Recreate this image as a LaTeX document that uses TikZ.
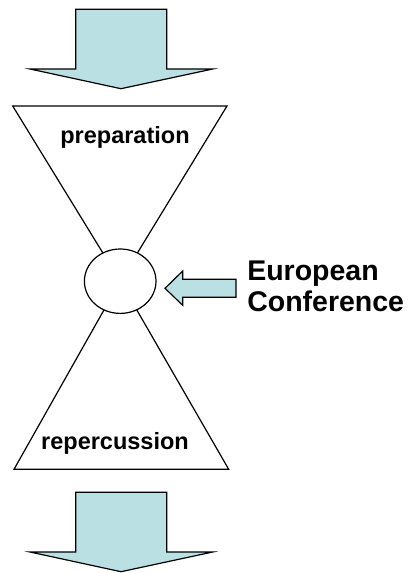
\documentclass[tikz,border=0pt]{standalone}
\usepackage{fontspec}
\setmainfont{Liberation Sans}
\usetikzlibrary{shapes.geometric}
\definecolor{flowfill}{HTML}{BBE0E3}

\begin{document}
\begin{tikzpicture}[x=1pt, y=-1pt, line width=1.2pt,
  flowarrow/.style={draw=black, fill=flowfill},
  phase/.style={draw=black, fill=white},
  phaselabel/.style={font=\fontsize{23.5}{26}\selectfont\bfseries, inner sep=0pt, anchor=base}]
\useasboundingbox (0,0) rectangle (409,573);
%% big flow arrows (in and out)
\foreach\y in {0,483}
  {
  \draw[flowarrow] (75.7,9.3+\y) -- (166.7,9.3+\y) -- (166.7,69+\y) -- (212.7,69+\y)
    -- (121,88.7+\y) -- (30,69+\y) -- (75.7,69+\y) -- cycle;
  }
%
\coordinate (hub) at (120.2,281.2);
% preparation funnel
\draw[phase] (12.7,106) -- (227,106) -- (hub) -- cycle;
% repercussion funnel
\draw[phase] (14,469.3) -- (228.7,469.3) -- (hub) -- cycle;
\node[draw, fill=white, ellipse, minimum width=71.6pt, minimum height=64.4pt, inner sep=0pt] (meeting) at (hub) {};
\node[phaselabel] (prep) at (125,143.3) {preparation};
\node[phaselabel] (rep) at (115,449.3) {repercussion};
%
% conference input
\node[font=\fontsize{28.5}{31}\selectfont\bfseries, align=left, inner sep=0pt, anchor=north west] (euconf) at (246.7,260) {European\\Conference};
\draw[flowarrow] (165,288.3) -- (182.7,271) -- (182.7,279.3) -- (236,279.3)
  -- (236,297.3) -- (182.7,297.3) -- (182.7,305.3) -- cycle;
\end{tikzpicture}
\end{document}
